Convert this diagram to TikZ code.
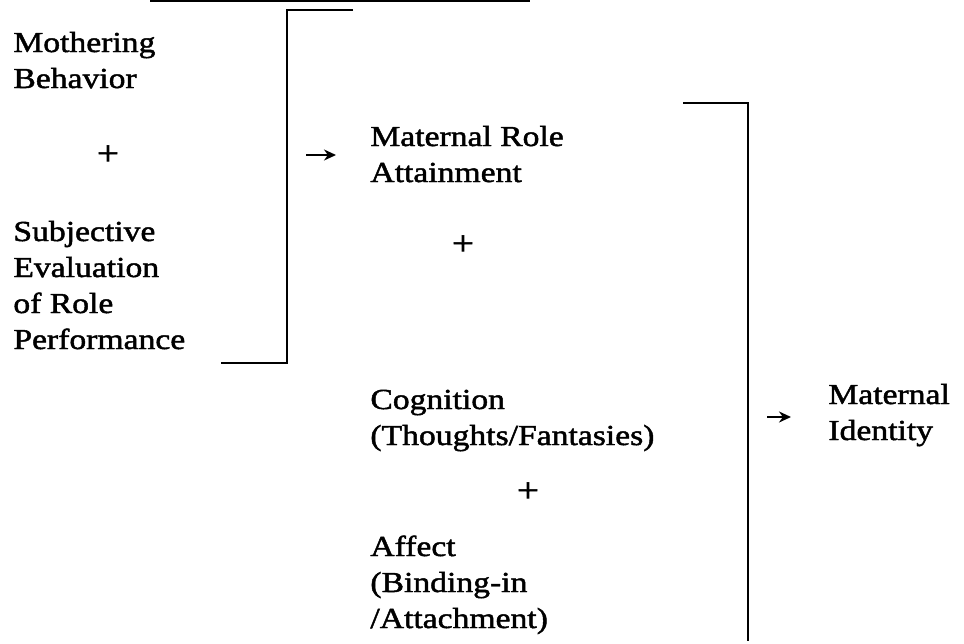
\documentclass[tikz,border=0pt]{standalone}
\usepackage{fontspec}
\setmainfont[FakeStretch=1.16,FakeBold=1.6]{Liberation Serif}
\usetikzlibrary{arrows.meta}
\begin{document}
\begin{tikzpicture}[x=0.5pt,y=-0.5pt,
  txt/.style={anchor=base west,inner sep=0pt,align=left,font=\fontsize{14.5}{18}\selectfont},
  plus/.style={inner sep=0pt,font=\fontsize{17}{18}\selectfont},
  brk/.style={line width=1.35pt,line join=miter},
  arr/.style={line width=1pt,-{Stealth[length=6pt,width=5.5pt]}}]
\useasboundingbox (0,0) rectangle (964,643);
% cut-off caption underline at the top edge
\coordinate (ul1) at (150,0.8);
\coordinate (ul2) at (530,0.8);
\draw[line width=1pt] (ul1) -- (ul2);
% left column (anchor = baseline of last line)
\node[txt] (moth) at (13,88) {Mothering\\Behavior};
\node[plus] (p1) at (108,155) {+};
\node[txt] (subj) at (13,349) {Subjective\\Evaluation\\of Role\\Performance};
% left bracket
\coordinate (lb1) at (353,10);
\coordinate (lb2) at (287,10);
\coordinate (lb3) at (287,363);
\coordinate (lb4) at (221,363);
\draw[brk] (lb1) -- (lb2) -- (lb3) -- (lb4);
\coordinate (a1s) at (306,155);
\coordinate (a1e) at (336,155);
\draw[arr] (a1s) -- (a1e);
% middle column
\node[txt] (mra) at (370,182) {Maternal Role\\Attainment};
\node[plus] (p2) at (463,245) {+};
\node[txt] (cog) at (370,445) {Cognition\\(Thoughts/Fantasies)};
\node[plus] (p3) at (528,492) {+};
\node[txt] (aff) at (370,628) {Affect\\(Binding-in\\/Attachment)};
% right bracket
\coordinate (rb1) at (683,103);
\coordinate (rb2) at (748,103);
\coordinate (rb3) at (748,641);
\draw[brk] (rb1) -- (rb2) -- (rb3);
\coordinate (a2s) at (767,417);
\coordinate (a2e) at (791,417);
\draw[arr] (a2s) -- (a2e);
% result
\node[txt] (mid) at (828,440) {Maternal\\Identity};
\end{tikzpicture}
\end{document}
